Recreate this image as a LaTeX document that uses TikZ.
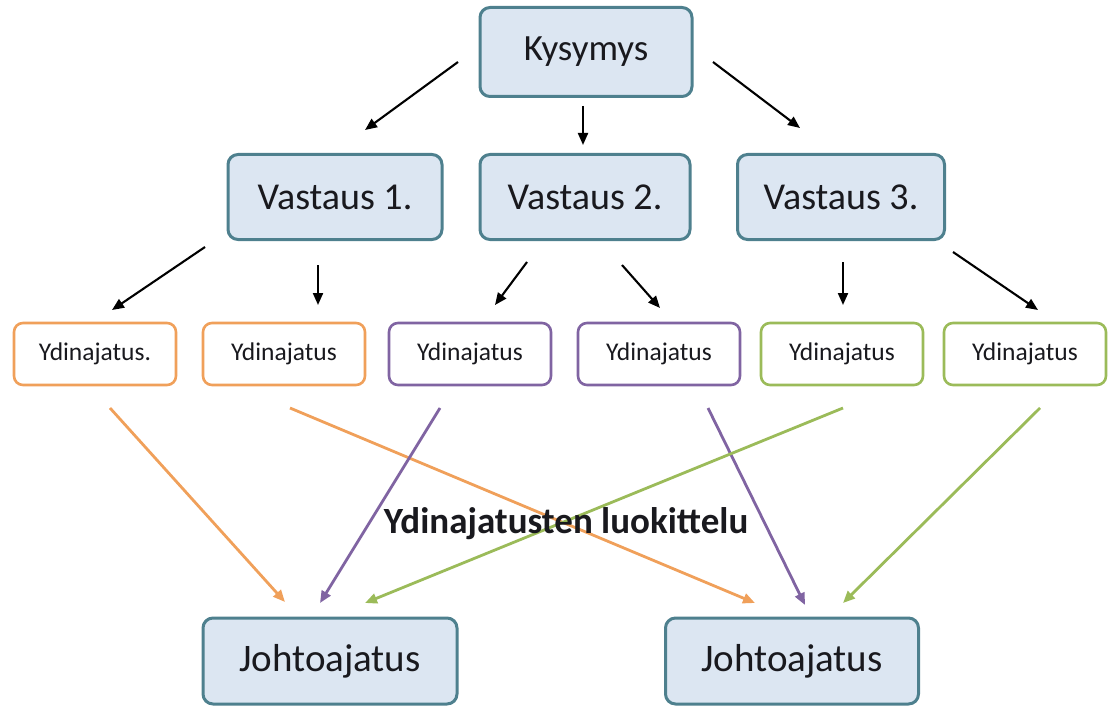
\documentclass[tikz,border=0pt]{standalone}
\usepackage{fontspec}
\setmainfont{Carlito}
\usetikzlibrary{arrows.meta}
\definecolor{boxfill}{RGB}{220,230,242}
\definecolor{boxline}{RGB}{78,128,142}
\definecolor{orng}{RGB}{240,160,90}
\definecolor{purp}{RGB}{128,100,162}
\definecolor{grn}{RGB}{155,187,89}
\definecolor{txt}{RGB}{25,25,30}
\tikzset{
  bluebox/.style={draw=boxline, fill=boxfill, text=txt, line width=3pt, rounded corners=10pt, anchor=center, inner sep=0pt, font=\fontsize{38}{42}\selectfont},
  smallbox/.style={draw=#1, fill=white, text=txt, line width=2.6pt, rounded corners=9pt, minimum width=162pt, minimum height=62pt, inner sep=0pt, font=\fontsize{25.5}{28}\selectfont},
  blk/.style={-{Triangle[length=12pt,width=10pt]}, line width=2.1pt, black},
  col/.style={-{Triangle[length=12pt,width=10pt]}, line width=2.8pt, draw=#1},
}
\begin{document}
\begin{tikzpicture}[x=1pt,y=-1pt]
\useasboundingbox (0,0) rectangle (1111,706);
% top
\node[bluebox, minimum width=212pt, minimum height=89pt, font=\fontsize{37}{40}\selectfont] (k) at (586,52) {Kysymys};
\node[bluebox, minimum width=214pt, minimum height=85pt] (v1) at (335,197) {Vastaus 1.};
\node[bluebox, minimum width=210pt, minimum height=85pt] (v2) at (585,197) {Vastaus 2.};
\node[bluebox, minimum width=207pt, minimum height=85pt] (v3) at (841,197) {Vastaus 3.};
% small
\node[smallbox=orng] (y1) at (95,354) {Ydinajatus.};
\node[smallbox=orng] (y2) at (284,354) {Ydinajatus};
\node[smallbox=purp] (y3) at (470,354) {Ydinajatus};
\node[smallbox=purp] (y4) at (659,354) {Ydinajatus};
\node[smallbox=grn] (y5) at (842,354) {Ydinajatus};
\node[smallbox=grn] (y6) at (1025,354) {Ydinajatus};
% bottom
\node[bluebox, minimum width=254pt, minimum height=86pt, font=\fontsize{39}{42}\selectfont] (j1) at (330,661) {Johtoajatus};
\node[bluebox, minimum width=253pt, minimum height=86pt, font=\fontsize{39}{42}\selectfont] (j2) at (792,661) {Johtoajatus};
% black arrows
\coordinate (a1s) at (458,62);  \coordinate (a1e) at (365,130);
\coordinate (a2s) at (583,106); \coordinate (a2e) at (583,145);
\coordinate (a3s) at (713,62);  \coordinate (a3e) at (800,128);
\coordinate (b1s) at (205,247); \coordinate (b1e) at (112,310);
\coordinate (b2s) at (318,265); \coordinate (b2e) at (318,305);
\coordinate (b3s) at (527,262); \coordinate (b3e) at (495,305);
\coordinate (b4s) at (622,265); \coordinate (b4e) at (660,308);
\coordinate (b5s) at (843,262); \coordinate (b5e) at (843,305);
\coordinate (b6s) at (953,252); \coordinate (b6e) at (1038,310);
\draw[blk] (a1s) -- (a1e);
\draw[blk] (a2s) -- (a2e);
\draw[blk] (a3s) -- (a3e);
\draw[blk] (b1s) -- (b1e);
\draw[blk] (b2s) -- (b2e);
\draw[blk] (b3s) -- (b3e);
\draw[blk] (b4s) -- (b4e);
\draw[blk] (b5s) -- (b5e);
\draw[blk] (b6s) -- (b6e);
% coloured arrows
\coordinate (c1s) at (110,408); \coordinate (c1e) at (285,602);
\coordinate (c2s) at (290,408); \coordinate (c2e) at (755,603);
\coordinate (c3s) at (440,408); \coordinate (c3e) at (320,603);
\coordinate (c4s) at (708,408); \coordinate (c4e) at (805,605);
\coordinate (c5s) at (843,408); \coordinate (c5e) at (365,603);
\coordinate (c6s) at (1040,408); \coordinate (c6e) at (843,603);
\draw[col=orng] (c1s) -- (c1e);
\draw[col=orng] (c2s) -- (c2e);
\draw[col=purp] (c3s) -- (c3e);
\draw[col=purp] (c4s) -- (c4e);
\draw[col=grn] (c5s) -- (c5e);
\draw[col=grn] (c6s) -- (c6e);
\node[font=\bfseries\fontsize{37}{40}\selectfont, text=txt, inner sep=0pt] (lbl) at (566,524) {Ydinajatusten luokittelu};
\end{tikzpicture}
\end{document}
